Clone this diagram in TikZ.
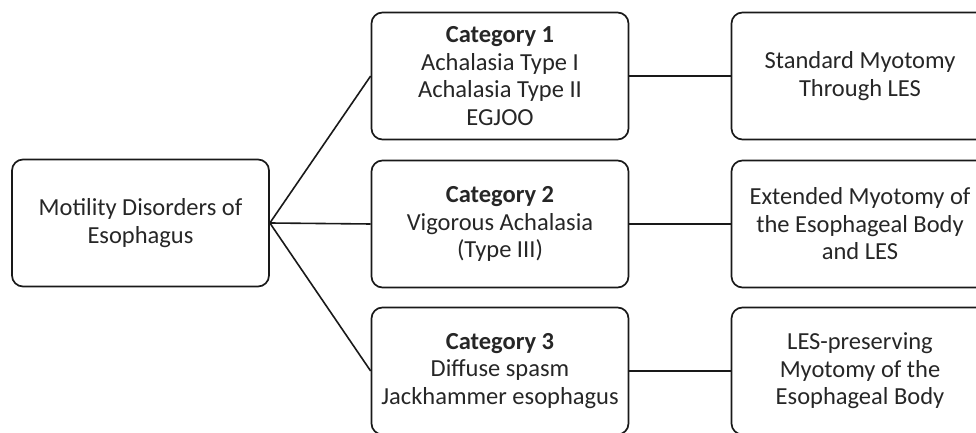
\documentclass[tikz,border=0pt]{standalone}
\usepackage{fontspec}
\setmainfont{Carlito}
\begin{document}
\begin{tikzpicture}[x=1pt,y=1pt,
  box/.style={draw=black!90, line width=1.7pt, rounded corners=11pt, minimum width=257pt, minimum height=127pt, align=center, inner sep=0pt, text=black!85, font=\fontsize{24.5}{27.5}\selectfont},
  link/.style={draw=black!90, line width=1.6pt}]
\useasboundingbox (0,0) rectangle (976,433);
\clip (0,0) rectangle (976,433);
\node[box] (m) at (140.5,210) {Motility Disorders of\\Esophagus};
\node[box] (c1) at (500,357) {\textbf{Category 1}\\Achalasia Type I\\Achalasia Type II\\EGJOO};
\node[box] (c2) at (500,209) {\textbf{Category 2}\\Vigorous Achalasia\\(Type III)};
\node[box] (c3) at (500,62) {\textbf{Category 3}\\Diffuse spasm\\Jackhammer esophagus};
\node[box] (t1) at (860,357) {Standard Myotomy\\Through LES};
\node[box] (t2) at (860,209) {Extended Myotomy of\\the Esophageal Body\\and LES};
\node[box] (t3) at (860,62) {LES-preserving\\Myotomy of the\\Esophageal Body};
\coordinate (hub) at (m.east);
\draw[link] (hub) -- (c1.west);
\draw[link] (hub) -- (c2.west);
\draw[link] (hub) -- (c3.west);
\draw[link] (c1) -- (t1);
\draw[link] (c2) -- (t2);
\draw[link] (c3) -- (t3);
\end{tikzpicture}
\end{document}
